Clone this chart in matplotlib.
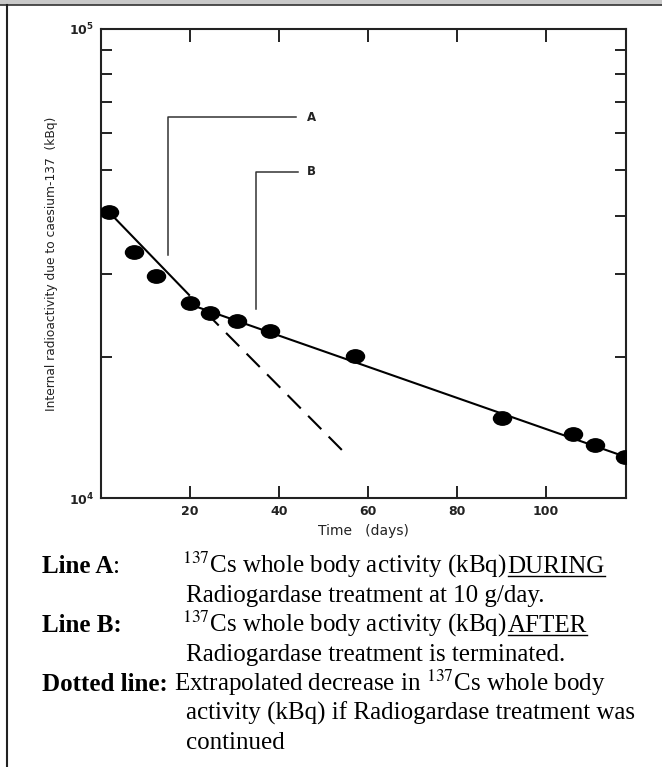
import numpy as np
import matplotlib
matplotlib.use("Agg")
import matplotlib.pyplot as plt
from matplotlib.path import Path
from matplotlib.patches import Rectangle
from matplotlib.lines import Line2D

# measured whole body activity (kBq) vs time (days)
days = [1.8, 7.4, 12.4, 20.0, 24.6, 30.6, 38.0, 57.0, 90.1, 106.0, 111.0, 117.8]
activity = [40700, 33500, 29700, 26100, 24800, 23900, 22700, 20100, 14800, 13700, 13000, 12250]

# fitted lines
line_a_days = [1.8, 19.8]
line_a_kbq = [40700, 27100]
line_b_days = [19.8, 118.0]
line_b_kbq = [25900, 12230]
extrap_days = [23.5, 55.7]
extrap_kbq = [24900, 12230]

# leader lines for labels A and B
lead_a_days = [15.1, 15.1, 43.8]
lead_a_kbq = [33000, 64900, 64900]
lead_b_days = [34.8, 34.8, 44.2]
lead_b_kbq = [25300, 49600, 49600]

xticks = [20, 40, 60, 80, 100]

W, H = 662, 767
plt.rcParams['mathtext.fontset'] = 'stix'
fig = plt.figure(figsize=(W / 100, H / 100), dpi=100)


def px(x, y):
    return x / W, 1 - y / H


# frame of the original picture
fig.patches.append(Rectangle((0, 1 - 4 / H), 1, 4 / H, transform=fig.transFigure,
                             color='#c9c9c9', zorder=0))
fig.lines.append(Line2D([0, 1], [1 - 4.5 / H] * 2, transform=fig.transFigure,
                        color='#333333', lw=1.2))
fig.lines.append(Line2D([7 / W] * 2, [0, 1 - 4.5 / H], transform=fig.transFigure,
                        color='#222222', lw=1.5))

ax = fig.add_axes([101 / W, 1 - 498 / H, (626 - 101) / W, (498 - 29) / H])
ax.set_yscale('log')
ax.set_xlim(0, 118)
ax.set_ylim(1e4, 1e5)

# ellipse marker, a bit wider than tall
circ = Path.unit_circle()
ell = Path(circ.vertices * np.array([1.35, 1.0]), circ.codes)

ax.plot(line_a_days, line_a_kbq, color='black', lw=1.5, zorder=3)
ax.plot(line_b_days, line_b_kbq, color='black', lw=1.5, zorder=3)
ax.plot(extrap_days, extrap_kbq, color='black', lw=1.5, ls=(0, (9, 5)), zorder=3)
ax.plot(days, activity, ls='none', marker=ell, ms=13, color='black', zorder=4)

ax.plot(lead_a_days, lead_a_kbq, color='#333333', lw=1.1)
ax.plot(lead_b_days, lead_b_kbq, color='#333333', lw=1.1)
ax.text(46.3, 64900, 'A', fontsize=8.5, fontweight='bold', va='center', ha='left', color='#222222')
ax.text(46.3, 49600, 'B', fontsize=8.5, fontweight='bold', va='center', ha='left', color='#222222')

ax.set_xticks(xticks)
ax.tick_params(which='both', direction='in', top=True, right=True, width=1.4,
               labelsize=9, colors='#222222', pad=5)
ax.tick_params(which='major', length=9)
ax.tick_params(which='minor', length=8)
ax.yaxis.set_minor_formatter(matplotlib.ticker.NullFormatter())
for lab in ax.get_xticklabels() + ax.get_yticklabels():
    lab.set_fontweight('bold')
for s in ax.spines.values():
    s.set_linewidth(1.5)
    s.set_color('#222222')

ax.set_xlabel('Time   (days)', fontsize=10, labelpad=4, color='#222222')
ax.set_ylabel('Internal radioactivity due to caesium-137  (kBq)', fontsize=8.8,
              labelpad=8, color='#222222')

# caption below the chart
serif = 'Liberation Serif'
fs = 18
r = fig.canvas.get_renderer()


def put(parts, x, y):
    # parts: list of (text, bold, underline)
    for s, bold, under in parts:
        fx, fy = px(x, y)
        t = fig.text(fx, fy, s, fontsize=fs, family=serif,
                     fontweight='bold' if bold else 'normal', va='baseline', ha='left')
        bb = t.get_window_extent(renderer=r)
        if under:
            fig.lines.append(Line2D([bb.x0 / W, bb.x1 / W], [fy - 3 / H] * 2,
                                    transform=fig.transFigure, color='black', lw=1.0))
        x += bb.width


put([('Line A', True, False), (':', False, False)], 42, 573)
put([(r'$^{137}$Cs whole body activity (kBq) ', False, False), ('DURING', False, True)], 182, 573)
put([('Radiogardase treatment at 10 g/day.', False, False)], 186, 602)
put([('Line B:', True, False)], 42, 632)
put([(r'$^{137}$Cs whole body activity (kBq) ', False, False), ('AFTER', False, True)], 182, 632)
put([('Radiogardase treatment is terminated.', False, False)], 186, 661)
put([('Dotted line:', True, False)], 42, 691)
put([(r'Extrapolated decrease in $^{137}$Cs whole body', False, False)], 174, 691)
put([('activity (kBq) if Radiogardase treatment was', False, False)], 186, 720)
put([('continued', False, False)], 186, 749)

fig.savefig('out.png', dpi=100)
